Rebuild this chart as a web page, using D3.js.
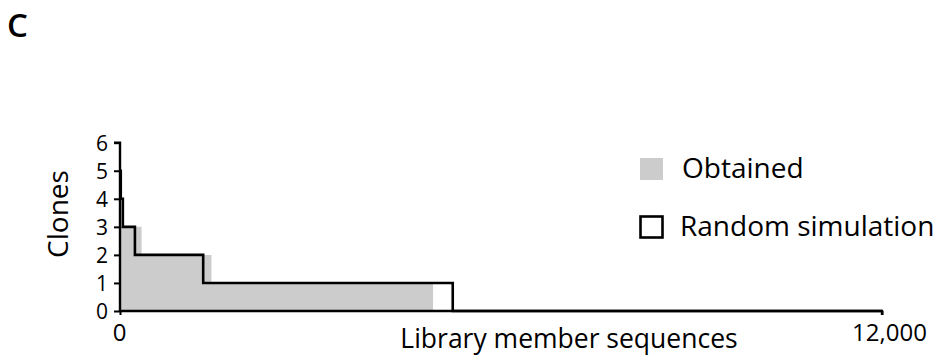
<!DOCTYPE html>
<html><head><meta charset="utf-8">
<script src="https://cdn.jsdelivr.net/npm/d3@7"></script>
<style>
html,body{margin:0;padding:0;background:#fff;}
svg text{font-family:"Open Sans","Noto Sans",sans-serif;fill:#000;}
</style></head>
<body><svg id="c" width="944" height="358"></svg>
<script>
// Data
const obtainedClones = [4, 3, 2, 1];
const obtainedEnds = [20, 340, 1440, 4930];
const randomClones = [5, 4, 3, 2, 1];
const randomEnds = [12, 45, 235, 1310, 5240];
const yTicks = [0, 1, 2, 3, 4, 5, 6];
const xTickValues = [0, 12000];
const xTickLabels = ["0", "12,000"];
const legendLabels = ["Obtained", "Random simulation"];

const svg = d3.select("#c");
const x = d3.scaleLinear().domain([0, 12000]).range([120, 882]);
const y = d3.scaleLinear().domain([0, 6]).range([311, 142.7]);

function stepPoints(levels, ends, tail) {
  const pts = [];
  let start = 0;
  levels.forEach((l, i) => { pts.push([start, l]); start = ends[i]; });
  pts.push([start, 0]);
  if (tail !== undefined) pts.push([tail, 0]);
  return pts;
}

// Obtained area
const obPts = stepPoints(obtainedClones, obtainedEnds);
svg.append("path")
  .attr("d", d3.area().curve(d3.curveStepAfter).x(d => x(d[0])).y0(y(0)).y1(d => y(d[1]))(obPts))
  .attr("fill", "#cccccc");

// Random simulation line
const rPts = stepPoints(randomClones, randomEnds, 12000);
svg.append("path")
  .attr("d", d3.line().curve(d3.curveStepAfter).x(d => x(d[0])).y(d => y(d[1]))(rPts))
  .attr("fill", "none").attr("stroke", "#000").attr("stroke-width", 2.6);

// Y axis
const yAxis = svg.append("g").attr("transform", `translate(${x(0)},0)`)
  .call(d3.axisLeft(y).tickValues(yTicks).tickFormat(d3.format("d")).tickSize(6).tickPadding(6));
yAxis.select(".domain").attr("stroke-width", 2.4).attr("d", `M-6,${y(6)}H0V${y(0)}`);
yAxis.selectAll(".tick line").attr("stroke-width", 2);
yAxis.selectAll(".tick text").attr("font-size", 21).attr("font-family", "Open Sans").attr("dy", "0.36em");

// X axis
const xAxis = svg.append("g").attr("transform", `translate(0,${y(0)})`)
  .call(d3.axisBottom(x).tickValues(xTickValues).tickFormat((d, i) => xTickLabels[i]).tickSize(4).tickPadding(9));
xAxis.select(".domain").attr("stroke-width", 2.4).attr("d", `M${x(0)},0H${x(12000)}V4`);
xAxis.selectAll(".tick line").attr("stroke-width", 2);
xAxis.selectAll(".tick text").attr("font-size", 24).attr("font-family", "Open Sans")
  .attr("dx", (d, i) => i === 1 ? 7 : -1);

// Titles
svg.append("text").attr("x", 569).attr("y", 348).attr("text-anchor", "middle")
  .attr("font-size", 26.5).text("Library member sequences");
svg.append("text").attr("transform", "translate(68,214) rotate(-90)").attr("text-anchor", "middle")
  .attr("font-size", 28).text("Clones");
svg.append("text").attr("x", 7).attr("y", 37).attr("font-size", 33).attr("font-weight", 600).text("C");

// Legend
const lg = svg.append("g");
lg.append("rect").attr("x", 640).attr("y", 158).attr("width", 23).attr("height", 22).attr("fill", "#cccccc");
lg.append("text").attr("x", 682).attr("y", 178).attr("font-size", 28).text(legendLabels[0]);
lg.append("rect").attr("x", 640.5).attr("y", 216.5).attr("width", 22).attr("height", 21)
  .attr("fill", "#fff").attr("stroke", "#000").attr("stroke-width", 2.6);
lg.append("text").attr("x", 680).attr("y", 236).attr("font-size", 28).text(legendLabels[1]);
</script></body></html>
